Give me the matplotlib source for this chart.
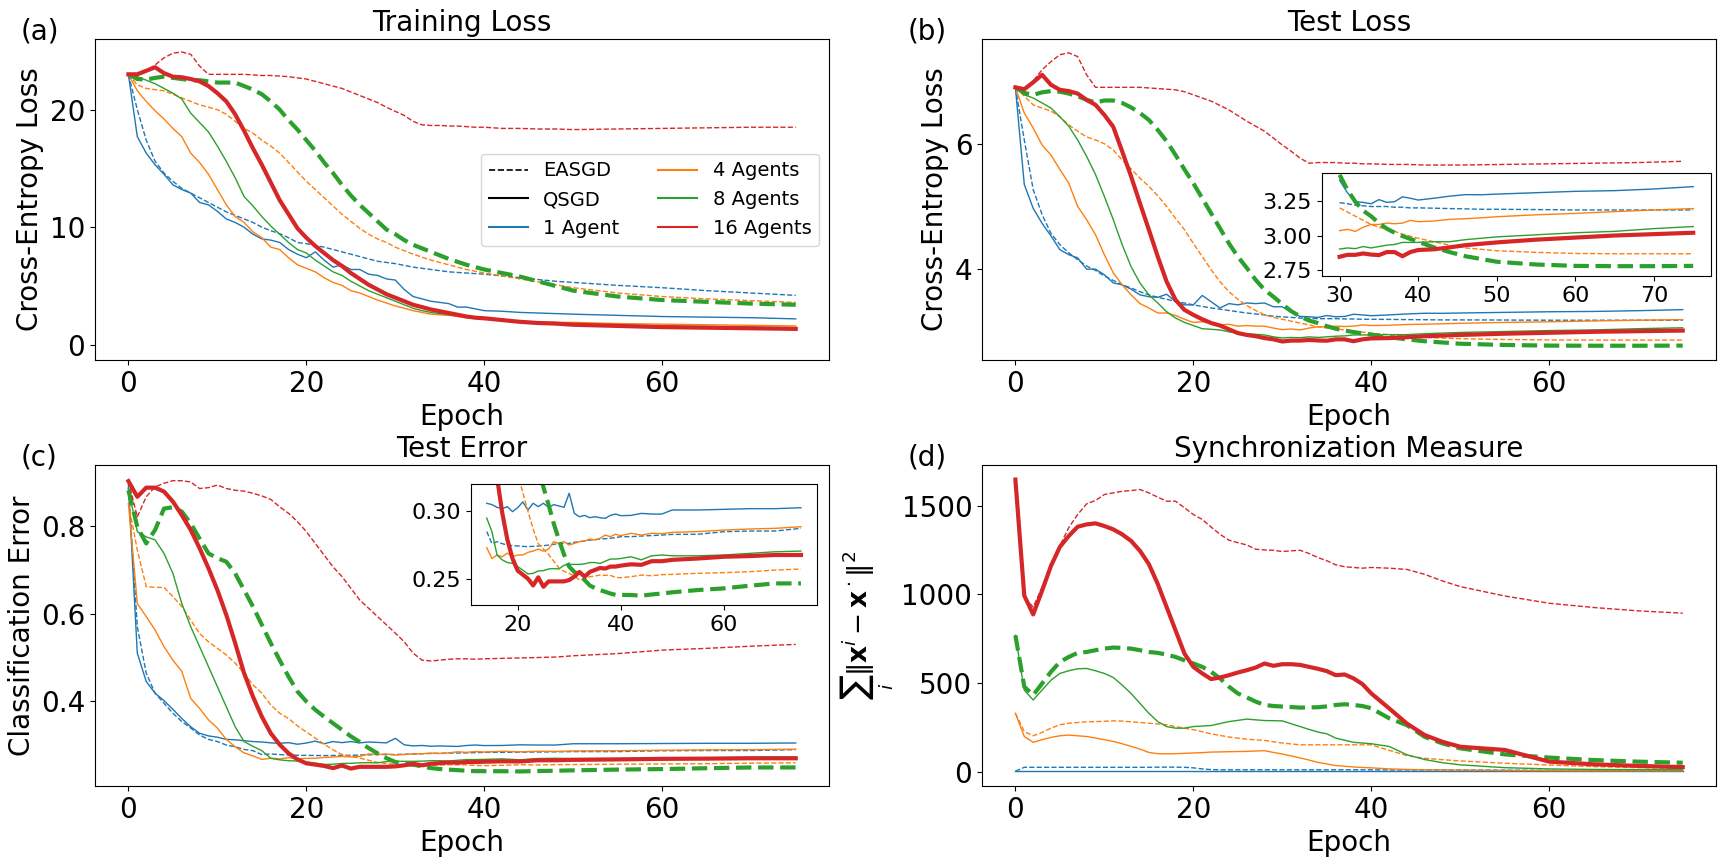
import numpy as np
import matplotlib
matplotlib.use('Agg')
import matplotlib.pyplot as plt
from matplotlib.lines import Line2D

EPOCHS = list(range(41)) + [42, 44, 46, 48, 50, 55, 60, 65, 70, 75]
AGENTS = [1, 4, 8, 16]
AGENT_LABELS = ['1 Agent', '4 Agents', '8 Agents', '16 Agents']
COLORS = ['tab:blue', 'tab:orange', 'tab:green', 'tab:red']

# (a) training loss
train_easgd_1 = [23.0, 20.0, 17.4, 15.6, 14.6, 13.9, 13.3, 12.9, 12.5, 12.1, 11.7,
                 11.3, 11.0, 10.7, 10.4, 10.0, 9.7, 9.45, 9.1, 8.7, 8.6,
                 8.45, 8.3, 8.1, 7.9, 7.7, 7.5, 7.3, 7.1, 7.0, 6.9,
                 6.75, 6.6, 6.5, 6.4, 6.3, 6.2, 6.15, 6.1, 6.05, 6.0,
                 5.85, 5.7, 5.55, 5.4, 5.3, 5.05, 4.85, 4.6, 4.4, 4.2]
train_qsgd_1 = [23.0, 17.7, 16.3, 15.3, 14.5, 13.6, 13.2, 12.9, 12.1, 11.9, 11.35,
                10.7, 10.4, 10.0, 9.4, 9.0, 8.9, 8.7, 8.1, 7.7, 7.4,
                7.9, 7.2, 6.6, 6.8, 6.4, 6.4, 6.0, 5.9, 5.6, 5.5,
                4.7, 4.1, 3.9, 3.7, 3.6, 3.5, 3.2, 3.2, 3.05, 2.9,
                2.85, 2.75, 2.7, 2.65, 2.6, 2.5, 2.4, 2.35, 2.3, 2.2]
train_easgd_4 = [23.0, 22.1, 21.8, 21.7, 21.6, 21.3, 21.0, 20.7, 20.4, 20.2, 20.0,
                 19.6, 19.0, 18.4, 18.0, 17.4, 16.9, 16.3, 15.5, 14.7, 13.9,
                 13.2, 12.5, 11.8, 11.1, 10.5, 9.9, 9.4, 9.0, 8.7, 8.3,
                 8.0, 7.7, 7.45, 7.2, 7.0, 6.8, 6.6, 6.4, 6.25, 6.1,
                 5.85, 5.6, 5.35, 5.1, 4.85, 4.4, 4.1, 3.9, 3.75, 3.6]
train_qsgd_4 = [23.0, 21.6, 20.7, 19.9, 19.2, 18.4, 17.7, 16.3, 15.5, 14.5, 13.2,
                11.9, 10.9, 10.4, 9.6, 9.1, 8.3, 8.1, 7.4, 6.8, 6.5,
                6.2, 5.7, 5.3, 5.05, 4.6, 4.4, 4.1, 3.8, 3.55, 3.3,
                3.1, 2.9, 2.75, 2.6, 2.55, 2.5, 2.4, 2.3, 2.25, 2.2,
                2.1, 2.0, 1.95, 1.9, 1.9, 1.8, 1.75, 1.7, 1.65, 1.6]
train_easgd_8 = [23.0, 22.6, 22.55, 22.7, 22.8, 22.7, 22.6, 22.5, 22.5, 22.4, 22.3,
                 22.3, 22.3, 22.0, 21.7, 21.3, 20.7, 20.0, 19.1, 18.3, 17.4,
                 16.5, 15.5, 14.6, 13.6, 12.7, 11.9, 11.2, 10.5, 9.8, 9.4,
                 8.9, 8.5, 8.2, 7.9, 7.6, 7.3, 7.05, 6.8, 6.6, 6.4,
                 6.1, 5.8, 5.4, 5.0, 4.6, 4.1, 3.8, 3.65, 3.5, 3.4]
train_qsgd_8 = [23.0, 22.8, 22.5, 22.2, 21.8, 21.4, 20.9, 19.7, 18.9, 18.1, 16.9,
                15.6, 14.2, 12.6, 11.8, 10.9, 10.1, 9.4, 8.7, 8.1, 7.8,
                7.2, 6.7, 6.2, 5.9, 5.4, 5.0, 4.6, 4.3, 4.0, 3.7,
                3.4, 3.1, 2.9, 2.75, 2.65, 2.55, 2.45, 2.35, 2.3, 2.2,
                2.1, 2.0, 1.9, 1.85, 1.8, 1.7, 1.6, 1.55, 1.5, 1.45]
train_easgd_16 = [23.0, 23.0, 23.3, 23.8, 24.4, 24.8, 24.9, 24.7, 23.7, 23.0, 23.0,
                  23.0, 23.0, 23.0, 22.95, 22.9, 22.9, 22.85, 22.8, 22.7, 22.6,
                  22.4, 22.2, 22.0, 21.8, 21.5, 21.2, 20.9, 20.6, 20.2, 19.85,
                  19.5, 19.0, 18.7, 18.65, 18.65, 18.6, 18.6, 18.55, 18.5, 18.5,
                  18.4, 18.4, 18.35, 18.35, 18.3, 18.35, 18.4, 18.45, 18.5, 18.5]
train_qsgd_16 = [23.0, 23.0, 23.3, 23.6, 23.1, 22.8, 22.75, 22.6, 22.4, 22.0, 21.4,
                 20.7, 19.6, 18.2, 16.7, 15.3, 13.8, 12.3, 11.1, 9.9, 9.1,
                 8.4, 7.8, 7.2, 6.7, 6.1, 5.6, 5.1, 4.7, 4.3, 4.0,
                 3.7, 3.4, 3.2, 3.0, 2.85, 2.7, 2.55, 2.4, 2.3, 2.25,
                 2.1, 1.95, 1.85, 1.8, 1.7, 1.6, 1.5, 1.45, 1.4, 1.35]

# (b) test loss
test_easgd_1 = [6.90, 6.06, 5.27, 4.87, 4.57, 4.39, 4.26, 4.15, 4.05, 3.98, 3.89,
                3.82, 3.75, 3.70, 3.64, 3.59, 3.55, 3.52, 3.48, 3.46, 3.43,
                3.405, 3.38, 3.36, 3.34, 3.32, 3.30, 3.285, 3.27, 3.25, 3.238,
                3.23, 3.22, 3.215, 3.21, 3.21, 3.21, 3.205, 3.205, 3.20, 3.20,
                3.198, 3.195, 3.193, 3.19, 3.19, 3.188, 3.185, 3.185, 3.185, 3.185]
test_qsgd_1 = [6.90, 5.35, 4.97, 4.73, 4.53, 4.31, 4.23, 4.18, 4.00, 4.00, 3.91,
               3.78, 3.75, 3.68, 3.59, 3.56, 3.55, 3.60, 3.48, 3.43, 3.43,
               3.58, 3.48, 3.38, 3.45, 3.43, 3.46, 3.45, 3.46, 3.40, 3.40,
               3.31, 3.245, 3.24, 3.23, 3.26, 3.24, 3.245, 3.28, 3.27, 3.257,
               3.27, 3.285, 3.296, 3.295, 3.30, 3.31, 3.32, 3.325, 3.337, 3.354]
test_easgd_4 = [6.90, 6.76, 6.62, 6.57, 6.52, 6.43, 6.30, 6.20, 6.11, 6.06, 6.00,
                5.90, 5.74, 5.60, 5.45, 5.32, 5.17, 5.00, 4.81, 4.63, 4.41,
                4.20, 3.99, 3.80, 3.64, 3.52, 3.42, 3.34, 3.27, 3.23, 3.20,
                3.17, 3.14, 3.11, 3.08, 3.06, 3.045, 3.03, 3.01, 2.995, 2.98,
                2.955, 2.93, 2.91, 2.90, 2.89, 2.878, 2.87, 2.868, 2.868, 2.868]
test_qsgd_4 = [6.90, 6.49, 6.25, 5.98, 5.82, 5.59, 5.37, 5.00, 4.79, 4.55, 4.23,
               3.94, 3.75, 3.59, 3.45, 3.38, 3.30, 3.30, 3.26, 3.20, 3.15,
               3.16, 3.14, 3.11, 3.12, 3.09, 3.10, 3.09, 3.09, 3.06, 3.035,
               3.045, 3.03, 3.06, 3.08, 3.08, 3.09, 3.085, 3.09, 3.11, 3.10,
               3.105, 3.117, 3.122, 3.128, 3.136, 3.15, 3.16, 3.173, 3.185, 3.195]
test_easgd_8 = [6.90, 6.81, 6.78, 6.82, 6.84, 6.83, 6.80, 6.76, 6.70, 6.66, 6.69,
                6.69, 6.65, 6.58, 6.49, 6.38, 6.22, 6.04, 5.82, 5.59, 5.37,
                5.13, 4.89, 4.65, 4.41, 4.20, 4.02, 3.83, 3.67, 3.56, 3.44,
                3.33, 3.245, 3.18, 3.14, 3.09, 3.05, 3.02, 2.996, 2.975, 2.955,
                2.914, 2.88, 2.85, 2.83, 2.81, 2.79, 2.78, 2.778, 2.778, 2.78]
test_qsgd_8 = [6.90, 6.78, 6.73, 6.65, 6.57, 6.43, 6.28, 6.06, 5.80, 5.51, 5.16,
               4.79, 4.39, 4.04, 3.78, 3.59, 3.46, 3.32, 3.22, 3.15, 3.10,
               3.05, 3.04, 3.03, 3.00, 2.98, 2.97, 2.96, 2.95, 2.92, 2.902,
               2.91, 2.905, 2.92, 2.91, 2.92, 2.93, 2.935, 2.95, 2.95, 2.95,
               2.955, 2.955, 2.97, 2.98, 2.99, 3.005, 3.02, 3.03, 3.05, 3.065]
test_easgd_16 = [6.90, 6.87, 7.00, 7.18, 7.31, 7.42, 7.45, 7.39, 7.10, 6.90, 6.90,
                 6.90, 6.90, 6.90, 6.90, 6.89, 6.88, 6.87, 6.86, 6.83, 6.78,
                 6.73, 6.68, 6.61, 6.54, 6.45, 6.36, 6.28, 6.20, 6.09, 5.98,
                 5.88, 5.77, 5.69, 5.70, 5.70, 5.70, 5.69, 5.69, 5.68, 5.68,
                 5.67, 5.67, 5.66, 5.66, 5.66, 5.67, 5.68, 5.69, 5.70, 5.72]
test_qsgd_16 = [6.90, 6.87, 6.98, 7.10, 6.94, 6.86, 6.84, 6.80, 6.70, 6.62, 6.46,
                6.27, 5.88, 5.48, 5.05, 4.63, 4.20, 3.80, 3.51, 3.35, 3.27,
                3.20, 3.14, 3.10, 3.04, 2.98, 2.95, 2.93, 2.90, 2.88, 2.846,
                2.86, 2.86, 2.87, 2.862, 2.858, 2.88, 2.88, 2.85, 2.88, 2.895,
                2.90, 2.914, 2.93, 2.94, 2.95, 2.97, 2.985, 3.00, 3.01, 3.02]

# (c) test error
err_easgd_1 = [0.890, 0.570, 0.463, 0.417, 0.394, 0.371, 0.352, 0.337, 0.321, 0.311, 0.306,
               0.298, 0.294, 0.288, 0.285, 0.276, 0.2775, 0.276, 0.275, 0.2745, 0.2743,
               0.274, 0.2738, 0.274, 0.2743, 0.2745, 0.275, 0.2755, 0.2762, 0.2762, 0.2762,
               0.277, 0.2775, 0.278, 0.2787, 0.279, 0.2795, 0.2797, 0.280, 0.2805, 0.2812,
               0.2812, 0.2817, 0.282, 0.2824, 0.2829, 0.283, 0.2849, 0.2854, 0.2854, 0.2874]
err_qsgd_1 = [0.895, 0.509, 0.444, 0.417, 0.400, 0.380, 0.359, 0.340, 0.325, 0.319, 0.316,
              0.311, 0.310, 0.308, 0.306, 0.305, 0.303, 0.302, 0.3035, 0.2998, 0.3027,
              0.307, 0.301, 0.306, 0.3035, 0.306, 0.303, 0.305, 0.304, 0.303, 0.3134,
              0.2985, 0.296, 0.297, 0.2953, 0.296, 0.2953, 0.2948, 0.297, 0.298, 0.2968,
              0.297, 0.2985, 0.298, 0.298, 0.301, 0.301, 0.3015, 0.302, 0.302, 0.3027]
err_easgd_4 = [0.853, 0.746, 0.662, 0.660, 0.660, 0.639, 0.616, 0.585, 0.554, 0.535, 0.520,
               0.505, 0.486, 0.463, 0.436, 0.417, 0.390, 0.371, 0.359, 0.342, 0.328,
               0.314, 0.300, 0.287, 0.276, 0.272, 0.268, 0.263, 0.258, 0.2555, 0.254,
               0.252, 0.249, 0.250, 0.2515, 0.252, 0.2527, 0.2525, 0.2525, 0.251, 0.2507,
               0.2515, 0.2527, 0.2522, 0.253, 0.2532, 0.254, 0.2545, 0.2552, 0.2564, 0.2572]
err_qsgd_4 = [0.853, 0.623, 0.593, 0.562, 0.524, 0.493, 0.467, 0.405, 0.382, 0.356, 0.337,
              0.311, 0.294, 0.280, 0.273, 0.265, 0.2676, 0.2663, 0.269, 0.2663, 0.2676,
              0.2676, 0.2696, 0.2705, 0.272, 0.2705, 0.272, 0.2775, 0.2762, 0.2775, 0.275,
              0.2762, 0.2775, 0.278, 0.2795, 0.2787, 0.280, 0.2824, 0.2812, 0.283, 0.282,
              0.2837, 0.2824, 0.2837, 0.2834, 0.2844, 0.285, 0.2861, 0.2869, 0.2874, 0.2886]
err_easgd_8 = [0.883, 0.799, 0.761, 0.792, 0.841, 0.844, 0.834, 0.807, 0.772, 0.738, 0.727,
               0.719, 0.692, 0.654, 0.616, 0.574, 0.532, 0.493, 0.455, 0.421, 0.398,
               0.379, 0.363, 0.348, 0.333, 0.318, 0.305, 0.291, 0.279, 0.268, 0.259,
               0.255, 0.253, 0.249, 0.245, 0.243, 0.2415, 0.2403, 0.239, 0.238, 0.238,
               0.2379, 0.2374, 0.2383, 0.239, 0.2399, 0.2416, 0.2428, 0.2448, 0.2465, 0.2465]
err_qsgd_8 = [0.887, 0.788, 0.776, 0.769, 0.738, 0.692, 0.623, 0.570, 0.524, 0.478, 0.432,
              0.386, 0.340, 0.306, 0.295, 0.285, 0.2676, 0.264, 0.262, 0.2614, 0.259,
              0.2564, 0.2535, 0.254, 0.2557, 0.256, 0.2572, 0.2575, 0.2572, 0.260, 0.2606,
              0.2606, 0.2606, 0.261, 0.262, 0.262, 0.2613, 0.263, 0.2646, 0.2646, 0.265,
              0.2663, 0.264, 0.267, 0.2676, 0.267, 0.267, 0.2676, 0.2688, 0.270, 0.2705]
err_easgd_16 = [0.904, 0.822, 0.868, 0.891, 0.899, 0.905, 0.905, 0.902, 0.887, 0.889, 0.895,
                0.887, 0.883, 0.881, 0.876, 0.870, 0.862, 0.845, 0.830, 0.811, 0.788,
                0.761, 0.734, 0.707, 0.685, 0.658, 0.631, 0.612, 0.593, 0.574, 0.555,
                0.535, 0.509, 0.493, 0.491, 0.493, 0.495, 0.496, 0.496, 0.495, 0.496,
                0.497, 0.498, 0.499, 0.500, 0.503, 0.508, 0.516, 0.520, 0.525, 0.529]
err_qsgd_16 = [0.904, 0.868, 0.889, 0.889, 0.880, 0.857, 0.826, 0.792, 0.750, 0.704, 0.654,
               0.597, 0.532, 0.463, 0.409, 0.363, 0.325, 0.299, 0.279, 0.265, 0.256,
               0.253, 0.250, 0.245, 0.251, 0.244, 0.248, 0.248, 0.248, 0.248, 0.249,
               0.2515, 0.255, 0.2515, 0.255, 0.2565, 0.258, 0.2575, 0.259, 0.259, 0.2597,
               0.2607, 0.2603, 0.263, 0.263, 0.264, 0.265, 0.2663, 0.2668, 0.2676, 0.2676]

# (d) synchronization measure
sync_easgd_1 = [2, 24, 24, 24, 24, 24, 24, 24, 24, 24, 24,
                24, 24, 24, 24, 24, 25, 25, 25, 24, 21,
                15, 11, 10, 10, 10, 10, 10, 10, 10, 10,
                10, 10, 10, 10, 10, 10, 10, 10, 10, 10,
                9, 9, 9, 9, 9, 8, 7, 6, 5, 5]
sync_qsgd_1 = [1, 1, 1, 1, 1, 1, 1, 1, 1, 1, 1,
               1, 1, 1, 1, 1, 1, 1, 1, 1, 1,
               1, 1, 1, 1, 1, 1, 1, 1, 1, 1,
               1, 1, 1, 1, 1, 1, 1, 1, 1, 1,
               1, 1, 1, 1, 1, 1, 1, 1, 1, 1]
sync_easgd_4 = [329, 226, 202, 221, 245, 264, 273, 277, 281, 282, 284,
                286, 285, 281, 277, 273, 269, 264, 254, 245, 236,
                225, 213, 204, 195, 189, 183, 179, 176, 168, 161,
                156, 151, 151, 151, 151, 151, 151, 151, 151, 151,
                120, 90, 75, 67, 60, 47, 37, 28, 22, 18]
sync_qsgd_4 = [329, 198, 165, 180, 193, 202, 206, 202, 198, 189, 180,
               170, 157, 142, 127, 108, 101, 100, 101, 103, 105,
               107, 110, 111, 112, 113, 114, 116, 118, 108, 99,
               88, 77, 65, 52, 43, 34, 30, 26, 23, 21,
               15, 12, 10, 9, 8, 6, 5, 4, 4, 4]
sync_easgd_8 = [769, 479, 432, 497, 563, 619, 647, 670, 675, 685, 694,
                700, 698, 694, 685, 675, 670, 660, 647, 628, 610,
                591, 563, 526, 479, 441, 419, 395, 376, 370, 367,
                364, 361, 362, 363, 368, 376, 380, 376, 370, 357,
                301, 262, 196, 159, 131, 97, 79, 65, 56, 50]
sync_qsgd_8 = [769, 460, 404, 460, 516, 554, 569, 580, 582, 569, 554,
               531, 488, 441, 385, 329, 282, 254, 245, 245, 254,
               257, 260, 271, 282, 289, 296, 292, 288, 287, 286,
               270, 254, 238, 223, 213, 189, 177, 165, 161, 157,
               142, 95, 68, 50, 38, 22, 15, 12, 11, 10]
sync_easgd_16 = [1640, 984, 928, 1040, 1171, 1274, 1377, 1451, 1511, 1530, 1564,
                 1573, 1582, 1586, 1592, 1573, 1549, 1526, 1526, 1489, 1451,
                 1423, 1380, 1339, 1306, 1292, 1279, 1255, 1251, 1249, 1242,
                 1246, 1249, 1231, 1208, 1190, 1167, 1156, 1152, 1148, 1152,
                 1148, 1141, 1113, 1076, 1044, 991, 950, 926, 907, 894]
sync_qsgd_16 = [1648, 993, 887, 1021, 1161, 1268, 1330, 1382, 1395, 1401, 1386,
                1367, 1339, 1302, 1246, 1171, 1059, 928, 797, 666, 591,
                554, 522, 531, 544, 559, 572, 587, 610, 597, 606,
                606, 602, 591, 580, 567, 544, 548, 526, 494, 441,
                357, 271, 206, 168, 140, 122, 56, 41, 32, 25]

FS = 20
THIN, THICK = 1.0, 3.0


def draw_curves(ax, easgd, qsgd, start=0):
    """EASGD dashed, QSGD solid; 8-agent EASGD and 16-agent QSGD drawn thick"""
    i0 = EPOCHS.index(start)
    x = EPOCHS[i0:]
    for n, color, e, q in zip(AGENTS, COLORS, easgd, qsgd):
        ax.plot(x, e[i0:], '--', color=color, lw=THICK if n == 8 else THIN)
        ax.plot(x, q[i0:], '-', color=color, lw=THICK if n == 16 else THIN)


def style_axis(ax, title, ylabel, ylabel_size=FS):
    ax.set_title(title, fontsize=FS)
    ax.set_xlabel('Epoch', fontsize=FS)
    ax.set_ylabel(ylabel, fontsize=ylabel_size)
    ax.tick_params(labelsize=FS)
    ax.set_xticks([0, 20, 40, 60])


def main():
    fig = plt.figure(figsize=(17.28, 8.64), dpi=100)

    ax_a = fig.add_axes([0.0550, 0.5833, 0.4248, 0.3715])
    ax_b = fig.add_axes([0.5683, 0.5833, 0.4248, 0.3715])
    ax_c = fig.add_axes([0.0550, 0.0903, 0.4248, 0.3715])
    ax_d = fig.add_axes([0.5683, 0.0903, 0.4248, 0.3715])

    train_e = [train_easgd_1, train_easgd_4, train_easgd_8, train_easgd_16]
    train_q = [train_qsgd_1, train_qsgd_4, train_qsgd_8, train_qsgd_16]
    test_e = [test_easgd_1, test_easgd_4, test_easgd_8, test_easgd_16]
    test_q = [test_qsgd_1, test_qsgd_4, test_qsgd_8, test_qsgd_16]
    err_e = [err_easgd_1, err_easgd_4, err_easgd_8, err_easgd_16]
    err_q = [err_qsgd_1, err_qsgd_4, err_qsgd_8, err_qsgd_16]
    sync_e = [sync_easgd_1, sync_easgd_4, sync_easgd_8, sync_easgd_16]
    sync_q = [sync_qsgd_1, sync_qsgd_4, sync_qsgd_8, sync_qsgd_16]

    # (a)
    draw_curves(ax_a, train_e, train_q)
    style_axis(ax_a, 'Training Loss', 'Cross-Entropy Loss')
    ax_a.set_ylim(-1.3, 26.0)
    ax_a.set_yticks([0, 10, 20])
    handles = [Line2D([], [], color='k', ls='--', lw=1.2),
               Line2D([], [], color='k', ls='-', lw=1.5)]
    handles += [Line2D([], [], color=c, lw=1.5) for c in COLORS]
    labels = ['EASGD', 'QSGD'] + AGENT_LABELS
    ax_a.legend(handles, labels, ncol=2, fontsize=14, loc='center right')

    # (b) with zoomed inset from epoch 30
    draw_curves(ax_b, test_e, test_q)
    style_axis(ax_b, 'Test Loss', 'Cross-Entropy Loss')
    ax_b.set_ylim(2.55, 7.67)
    ax_b.set_yticks([4, 6])
    ins_b = fig.add_axes([0.7650, 0.6806, 0.2251, 0.1192])
    draw_curves(ins_b, test_e, test_q, start=30)
    ins_b.set_xlim(27.75, 77.25)
    ins_b.set_ylim(2.707, 3.453)
    ins_b.set_xticks([30, 40, 50, 60, 70])
    ins_b.set_yticks([2.75, 3.00, 3.25])
    ins_b.set_yticklabels(['2.75', '3.00', '3.25'])
    ins_b.tick_params(labelsize=16)

    # (c) with zoomed inset from epoch 14
    draw_curves(ax_c, err_e, err_q)
    style_axis(ax_c, 'Test Error', 'Classification Error')
    ax_c.set_ylim(0.204, 0.941)
    ax_c.set_yticks([0.4, 0.6, 0.8])
    ins_c = fig.add_axes([0.2726, 0.2998, 0.2000, 0.1400])
    draw_curves(ins_c, err_e, err_q, start=14)
    ins_c.set_xlim(10.95, 78.05)
    ins_c.set_ylim(0.2305, 0.3203)
    ins_c.set_xticks([20, 40, 60])
    ins_c.set_yticks([0.25, 0.30])
    ins_c.set_yticklabels(['0.25', '0.30'])
    ins_c.tick_params(labelsize=16)

    # (d)
    draw_curves(ax_d, sync_e, sync_q)
    style_axis(ax_d, 'Synchronization Measure',
               r'$\sum_i \|\mathbf{x}^i - \mathbf{x}^\cdot\|^2$', ylabel_size=19)
    ax_d.set_yticks([0, 500, 1000, 1500])

    for ax in (ax_a, ax_b, ax_c, ax_d):
        ax.set_xlim(-3.75, 78.75)

    # panel letters
    fig.text(0.012, 0.964, '(a)', fontsize=FS, va='center')
    fig.text(0.5255, 0.964, '(b)', fontsize=FS, va='center')
    fig.text(0.012, 0.470, '(c)', fontsize=FS, va='center')
    fig.text(0.5255, 0.470, '(d)', fontsize=FS, va='center')

    fig.savefig('out.png', dpi=100)


if __name__ == '__main__':
    main()
